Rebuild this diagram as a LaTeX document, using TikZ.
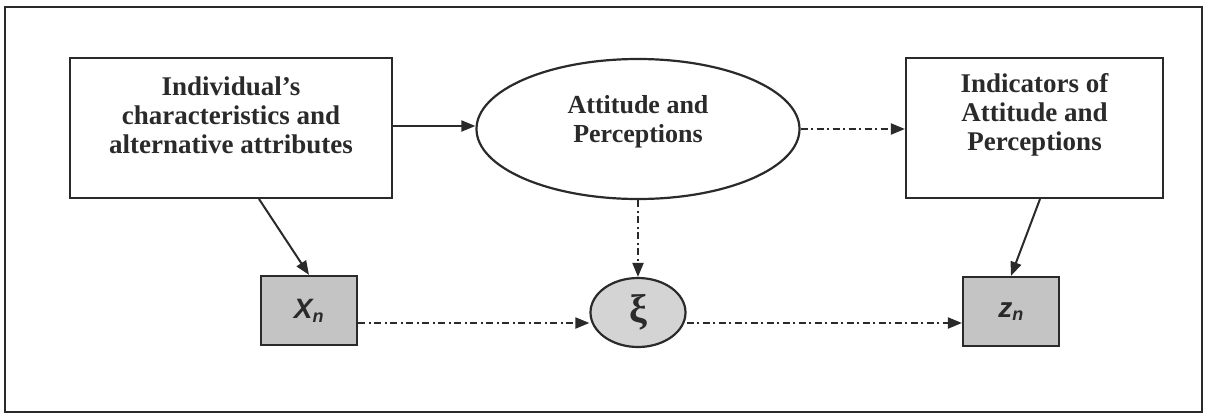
\documentclass[tikz,border=0pt]{standalone}
\usepackage{fontspec}
\setmainfont{Liberation Serif}
\newfontfamily\arialfont{Liberation Sans}
\usetikzlibrary{shapes.geometric,arrows.meta}
\definecolor{boxgray}{HTML}{C4C4C4}
\definecolor{ellgray}{HTML}{D4D4D4}
\definecolor{ink}{HTML}{2A2A2A}
\tikzset{
  bigtext/.style={align=center,font=\fontsize{27}{29}\selectfont\bfseries,text=ink},
  bigbox/.style={draw=ink,line width=2.2pt,minimum width=322pt,minimum height=140pt},
  smallbox/.style={draw=ink,line width=2.2pt,fill=boxgray,minimum width=96pt,minimum height=69pt,font=\arialfont\bfseries\itshape\fontsize{28}{30}\selectfont,text=ink},
  arr/.style={draw=ink,line width=2pt,-{Triangle[length=14pt,width=11pt]}},
  dd/.style={arr,dash pattern=on 7pt off 3.5pt on 2pt off 3.5pt}
}
\newcommand{\subn}{\textsubscript{\fontsize{18}{18}\selectfont n}}
\begin{document}
\begin{tikzpicture}[x=1pt,y=-1pt]
\useasboundingbox (0,0) rectangle (1210,415);
\draw[ink,line width=2.2pt] (5,7) rectangle (1202,412);
\node[bigbox] (ind) at (231,128) {};
\node[bigtext] (indtxt) at (231,115) {Individual's\\characteristics and\\alternative attributes};
\node[bigbox,minimum width=257pt] (indic) at (1034.5,128) {};
\node[bigtext] (indictxt) at (1034.5,115) {Indicators of\\Attitude and\\Perceptions};
\node[draw=ink,line width=2.2pt,ellipse,minimum width=323pt,minimum height=140pt] (att) at (638,129) {};
\node[bigtext,font=\fontsize{26}{29}\selectfont\bfseries] (atttxt) at (638,122) {Attitude and\\Perceptions};
\node[smallbox] (xn) at (309,310.5) {X\subn};
\node[smallbox] (zn) at (1011,311.5) {z\subn};
\node[draw=ink,line width=2.2pt,ellipse,fill=ellgray,minimum width=95pt,minimum height=69pt,inner sep=0pt,font=\fontsize{40}{40}\selectfont\bfseries,text=ink] (xi) at (638,312.5) {ξ};
\coordinate (a1) at (259,199);
\coordinate (a2) at (1040,199);
\draw[arr] (ind.east |- 0,126) -- (att.west |- 0,126);
\draw[dd] (att.east) -- (indic.west |- att.east);
\draw[arr] (a1) -- (xn.north);
\draw[arr] (a2) -- (zn.north);
\draw[dd] (att.south) -- (xi.north);
\draw[dd] (xn.east |- 0,323) -- (xi.west |- 0,323);
\draw[dd] (xi.east |- 0,323) -- (zn.west |- 0,323);
\end{tikzpicture}
\end{document}
